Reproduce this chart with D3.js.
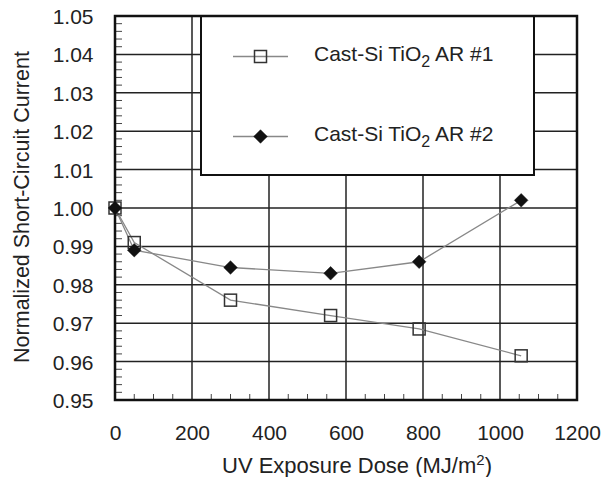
<!DOCTYPE html>
<html><head><meta charset="utf-8">
<script src="https://cdn.jsdelivr.net/npm/d3@7"></script>
<style>
html,body{margin:0;padding:0;background:#fff;}
text{font-family:"Liberation Sans",Arial,Helvetica,sans-serif;fill:#222;}
</style></head>
<body><svg id="chart" width="611" height="477"></svg>
<script>
// Data
const doseAR1 = [0, 50, 300, 560, 790, 1055];
const iscAR1  = [1.000, 0.991, 0.976, 0.972, 0.9685, 0.9615];
const doseAR2 = [0, 50, 300, 560, 790, 1055];
const iscAR2  = [1.000, 0.989, 0.9845, 0.983, 0.986, 1.002];
const xTicks = [0, 200, 400, 600, 800, 1000, 1200];
const yTicks = [0.95, 0.96, 0.97, 0.98, 0.99, 1.00, 1.01, 1.02, 1.03, 1.04, 1.05];
const seriesNames = ["Cast-Si TiO", "Cast-Si TiO"];
const seriesSuffix = [" AR #1", " AR #2"];

const svg = d3.select("#chart");
const L = 115, R = 577, T = 16, B = 400;
const x = d3.scaleLinear().domain([0, 1200]).range([L, R]);
const y = d3.scaleLinear().domain([0.95, 1.05]).range([B, T]);

// Gridlines
const g = svg.append("g");
g.selectAll(".gx").data(xTicks.slice(1, -1)).enter().append("line")
  .attr("x1", d => x(d)).attr("x2", d => x(d)).attr("y1", T).attr("y2", B)
  .attr("stroke", "#222").attr("stroke-width", 1.5);
g.selectAll(".gy").data(yTicks.slice(1, -1)).enter().append("line")
  .attr("y1", d => y(d)).attr("y2", d => y(d)).attr("x1", L).attr("x2", R)
  .attr("stroke", "#222").attr("stroke-width", 1.5);

// Minor ticks
const xMinor = d3.range(0, 1201, 50).filter(v => v % 200 !== 0);
g.selectAll(".mx").data(xMinor).enter().append("line")
  .attr("x1", d => x(d)).attr("x2", d => x(d)).attr("y1", B).attr("y2", B - 6)
  .attr("stroke", "#444").attr("stroke-width", 1);
const yMinor = d3.range(0, 51).map(i => 0.95 + i * 0.002).filter((v, i) => i % 5 !== 0);
g.selectAll(".my").data(yMinor).enter().append("line")
  .attr("y1", d => y(d)).attr("y2", d => y(d)).attr("x1", L).attr("x2", L + 7)
  .attr("stroke", "#444").attr("stroke-width", 1);

// Legend box
const lg = svg.append("g");
lg.append("rect").attr("x", 201).attr("y", T).attr("width", 333).attr("height", 159)
  .attr("fill", "#fff").attr("stroke", "#111").attr("stroke-width", 2);

// Frame
svg.append("rect").attr("x", L).attr("y", T).attr("width", R - L).attr("height", B - T)
  .attr("fill", "none").attr("stroke", "#111").attr("stroke-width", 2.5);

// Axis labels
const xAxis = d3.axisBottom(x).tickValues(xTicks).tickSize(0).tickPadding(0).tickFormat(d3.format("d"));
const xa = svg.append("g").attr("transform", `translate(0,${B})`).call(xAxis);
xa.select(".domain").remove();
xa.selectAll("text").attr("font-size", 21).attr("fill", "#222")
  .attr("font-family", "Liberation Sans, Arial, sans-serif").attr("y", 39.5).attr("dy", 0);

const yAxis = d3.axisLeft(y).tickValues(yTicks).tickSize(0).tickPadding(0).tickFormat(d3.format(".2f"));
const ya = svg.append("g").attr("transform", `translate(${L},0)`).call(yAxis);
ya.select(".domain").remove();
ya.selectAll("text").attr("font-size", 21).attr("fill", "#222")
  .attr("font-family", "Liberation Sans, Arial, sans-serif").attr("x", -21.5).attr("dy", "0.36em");

// Titles
const xt = svg.append("text").attr("x", 357).attr("y", 473).attr("text-anchor", "middle").attr("font-size", 22);
xt.append("tspan").text("UV Exposure Dose (MJ/m");
xt.append("tspan").attr("font-size", 15).attr("dy", -8).text("2");
xt.append("tspan").attr("dy", 8).text(")");

svg.append("text").attr("transform", "translate(28.5,207) rotate(-90)")
  .attr("text-anchor", "middle").attr("font-size", 21.5).text("Normalized Short-Circuit Current");

// Series
const s1 = doseAR1.map((d, i) => [d, iscAR1[i]]);
const s2 = doseAR2.map((d, i) => [d, iscAR2[i]]);
const line = d3.line().x(d => x(d[0])).y(d => y(d[1]));
svg.append("path").attr("d", line(s1)).attr("fill", "none").attr("stroke", "#888").attr("stroke-width", 1.3);
svg.append("path").attr("d", line(s2)).attr("fill", "none").attr("stroke", "#888").attr("stroke-width", 1.3);

const sq = 12;
function square(sel, cx, cy) {
  sel.append("rect").attr("x", cx - sq / 2).attr("y", cy - sq / 2).attr("width", sq).attr("height", sq)
    .attr("fill", "none").attr("stroke", "#333").attr("stroke-width", 1.5);
}
function diamond(sel, cx, cy) {
  const r = 6.8;
  sel.append("path").attr("d", `M${cx},${cy - r}L${cx + r},${cy}L${cx},${cy + r}L${cx - r},${cy}Z`)
    .attr("fill", "#111").attr("stroke", "#111").attr("stroke-width", 0.5);
}
const m = svg.append("g");
s1.forEach(d => square(m, x(d[0]), y(d[1])));
s2.forEach(d => diamond(m, x(d[0]), y(d[1])));

// Legend entries
const ly = [56.5, 136.5];
ly.forEach((yy, i) => {
  lg.append("line").attr("x1", 233).attr("x2", 288).attr("y1", yy).attr("y2", yy)
    .attr("stroke", "#888").attr("stroke-width", 1.3);
  if (i === 0) square(lg, 260.5, yy); else diamond(lg, 260.5, yy);
  const t = lg.append("text").attr("x", 314).attr("y", yy + 4).attr("font-size", 21);
  t.append("tspan").text(seriesNames[i]);
  t.append("tspan").attr("font-size", 16).attr("dy", 6).text("2");
  t.append("tspan").attr("dy", -6).text(seriesSuffix[i]);
});
</script></body></html>
